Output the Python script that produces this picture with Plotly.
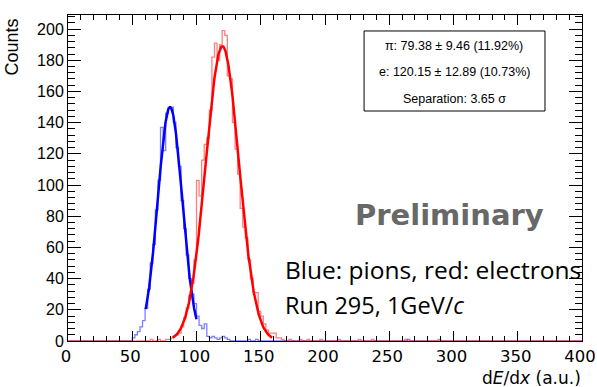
import numpy as np
import plotly.graph_objects as go

# ---------------- data ----------------
bin_width = 2.0
n_bins = 200  # 0..400

# pion (blue) histogram: counts for consecutive bins starting at bin centre 49
pion_start = 49
pion_counts = [0, 2, 4, 6, 9, 13, 21, 33, 50, 62, 84, 103, 137, 122, 146, 150, 150,
               140, 124, 112, 90, 72, 55, 40, 30, 24, 16, 10, 8, 11, 3, 2, 3, 2, 1,
               2, 3, 2, 1, 0]
pion_stray_centres = [141, 147, 265]
pion_stray_counts = [1, 1, 1]

# electron (red) histogram: counts for consecutive bins starting at bin centre 63
elec_start = 63
elec_counts = [0, 1, 0, 0, 1, 0, 0, 1, 1, 2, 3, 4, 5, 9, 15, 21, 29, 37, 52, 103,
               93, 116, 126, 130, 148, 182, 191, 180, 190, 199, 196, 170, 168, 140,
               123, 107, 85, 73, 66, 52, 40, 31, 31, 19, 16, 11, 7, 5, 5, 5, 2, 2, 1, 0]
elec_stray_centres = [173, 181, 187, 197, 211, 227, 237, 263, 289]
elec_stray_counts = [1, 1, 1, 1, 1, 1, 1, 1, 1]

# Gaussian fit results (as printed in the stats box)
pion_fit = dict(amp=150.0, mean=79.38, sigma=9.46, lo=60.5, hi=100.0)
elec_fit = dict(amp=189.0, mean=120.15, sigma=12.89, lo=81.5, hi=158.8)

stats_lines = ["π: 79.38 ± 9.46 (11.92%)",
               "e: 120.15 ± 12.89 (10.73%)",
               "Separation: 3.65 σ"]

x_ticks = [0, 50, 100, 150, 200, 250, 300, 350, 400]
y_ticks = [0, 20, 40, 60, 80, 100, 120, 140, 160, 180, 200]

# ---------------- build ----------------
def build_hist(start, counts, sc, sn):
    h = np.zeros(n_bins)
    i0 = int((start - bin_width / 2) / bin_width)
    h[i0:i0 + len(counts)] = counts
    for c, n in zip(sc, sn):
        h[int((c - bin_width / 2) / bin_width)] = n
    return h


pion_h = build_hist(pion_start, pion_counts, pion_stray_centres, pion_stray_counts)
elec_h = build_hist(elec_start, elec_counts, elec_stray_centres, elec_stray_counts)


def step_xy(h):
    edges = np.arange(n_bins + 1) * bin_width
    xs = np.repeat(edges, 2)[1:-1]
    ys = np.repeat(h, 2)
    return xs, ys


def gauss_curve(p):
    xs = np.linspace(p["lo"], p["hi"], 200)
    ys = p["amp"] * np.exp(-0.5 * ((xs - p["mean"]) / p["sigma"]) ** 2)
    return xs, ys


fig = go.Figure()
px_, py_ = step_xy(pion_h)
ex_, ey_ = step_xy(elec_h)
fig.add_trace(go.Scatter(x=px_, y=py_, mode="lines",
                         line=dict(color="rgba(40,40,255,0.6)", width=1.3),
                         hoverinfo="skip"))
fig.add_trace(go.Scatter(x=ex_, y=ey_, mode="lines",
                         line=dict(color="rgba(255,40,40,0.6)", width=1.3),
                         hoverinfo="skip"))
gx, gy = gauss_curve(pion_fit)
fig.add_trace(go.Scatter(x=gx, y=gy, mode="lines",
                         line=dict(color="#0000ff", width=2.5), hoverinfo="skip"))
gx, gy = gauss_curve(elec_fit)
fig.add_trace(go.Scatter(x=gx, y=gy, mode="lines",
                         line=dict(color="#ff0000", width=2.5), hoverinfo="skip"))

yfont = dict(family="Liberation Sans, Arial, sans-serif", size=16, color="black")
xfont = dict(family="DejaVu Sans, sans-serif", size=16.5, color="black")

fig.update_layout(
    width=597, height=387,
    margin=dict(l=68, r=15, t=15, b=46),
    paper_bgcolor="white", plot_bgcolor="white",
    showlegend=False,
    font=yfont,
    xaxis=dict(range=[0, 400], tickvals=x_ticks, ticks="inside", ticklen=10,
               tickcolor="black", tickwidth=1, showline=True, linecolor="black",
               linewidth=1, mirror="allticks", showgrid=False, zeroline=False,
               tickfont=xfont, automargin=False, ticklabeloverflow="allow",
               ticklabelshift=-2,
               minor=dict(dtick=10, ticklen=5, ticks="inside", tickcolor="black",
                          showgrid=False)),
    yaxis=dict(range=[0, 209], tickvals=y_ticks, ticks="inside", ticklen=13,
               tickcolor="black", tickwidth=1, showline=True, linecolor="black",
               linewidth=1, mirror="allticks", showgrid=False, zeroline=False,
               tickfont=yfont, automargin=False, ticklabeloverflow="allow",
               minor=dict(dtick=4, ticklen=7, ticks="inside", tickcolor="black",
                          showgrid=False)),
)

# stats box
fig.add_shape(type="rect", xref="paper", yref="paper",
              x0=0.576, x1=0.928, y0=0.7055, y1=0.951,
              line=dict(color="black", width=1), fillcolor="white", layer="above")
for txt, yy in zip(stats_lines, [0.905, 0.825, 0.742]):
    fig.add_annotation(text=txt, xref="paper", yref="paper", x=0.7515, y=yy,
                       showarrow=False, xanchor="center", yanchor="middle",
                       font=dict(family="Liberation Sans, Arial", size=12.5, color="black"))

text_font = "Open Sans, Lato, sans-serif"
fig.add_annotation(text="<b>Preliminary</b>", xref="paper", yref="paper",
                   x=0.743, y=0.387, showarrow=False, xanchor="center", yanchor="middle",
                   font=dict(family="DejaVu Sans, sans-serif", size=29, color="#686868"))
fig.add_annotation(text="Blue: pions, red: electrons", xref="paper", yref="paper",
                   x=0.418, y=0.218, showarrow=False, xanchor="left", yanchor="middle",
                   font=dict(family=text_font, size=24.5, color="black"))
fig.add_annotation(text="Run 295, 1GeV/<i>c</i>", xref="paper", yref="paper",
                   x=0.418, y=0.110, showarrow=False, xanchor="left", yanchor="middle",
                   font=dict(family=text_font, size=23.5, color="black"))

# axis titles
fig.add_annotation(text="Counts", xref="paper", yref="paper", x=-0.108, y=0.995,
                   textangle=-90, showarrow=False, xanchor="center", yanchor="top",
                   font=dict(family="Liberation Sans, Arial", size=18, color="black"))
fig.add_annotation(text="d<i>E</i>/d<i>x</i> (a.u.)", xref="paper", yref="paper",
                   x=1.002, y=-0.113, showarrow=False, xanchor="right", yanchor="middle",
                   font=dict(family="DejaVu Sans, sans-serif", size=17, color="black"))

fig.write_html("out.html")
